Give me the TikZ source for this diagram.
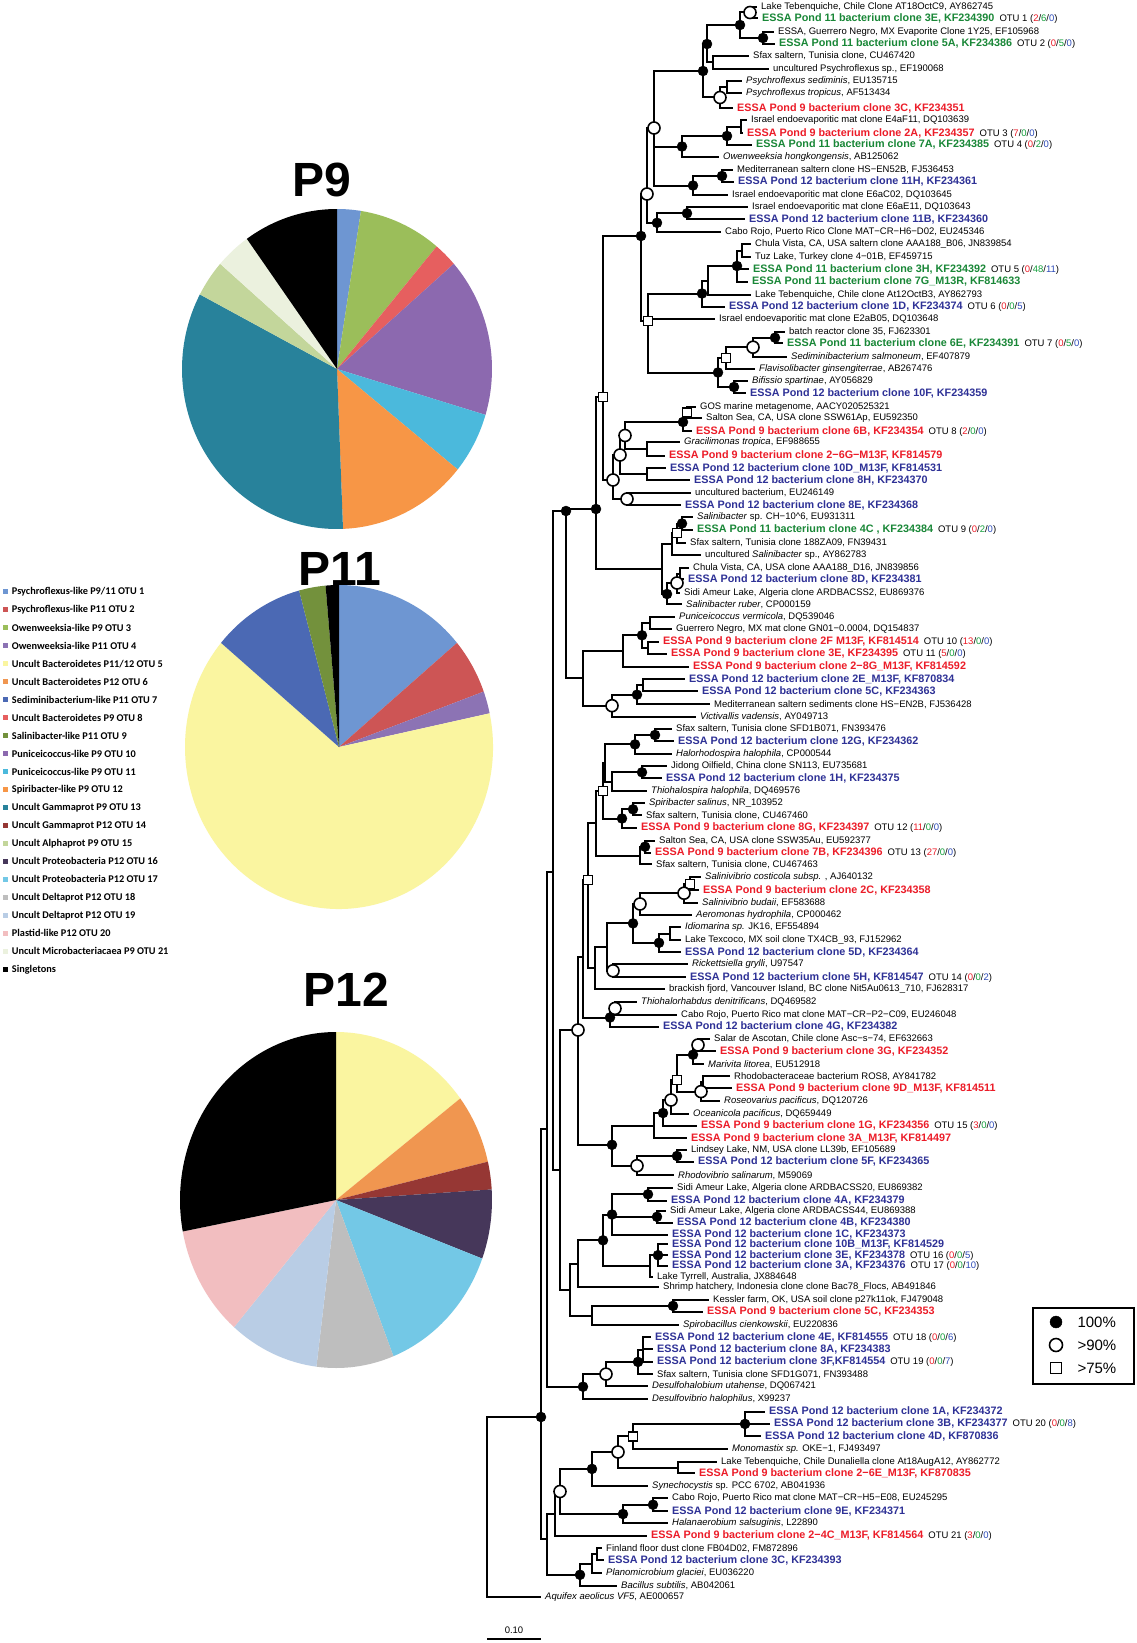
\documentclass[tikz,border=0pt]{standalone}
\usepackage{fontspec}
\setmainfont{Liberation Sans}
\newfontfamily\legfont{Carlito}
\usetikzlibrary{calc}
\definecolor{cg}{RGB}{25,135,55}
\definecolor{cr}{RGB}{236,28,40}
\definecolor{cu}{RGB}{46,49,150}
\definecolor{nr}{RGB}{236,28,40}
\definecolor{ng}{RGB}{20,160,60}
\definecolor{nb}{RGB}{45,75,185}
\definecolor{o1}{RGB}{110,150,210}
\definecolor{o2}{RGB}{205,85,85}
\definecolor{o3}{RGB}{155,190,90}
\definecolor{o4}{RGB}{140,115,180}
\definecolor{o5}{RGB}{250,245,160}
\definecolor{o6}{RGB}{240,150,80}
\definecolor{o7}{RGB}{75,105,180}
\definecolor{o8}{RGB}{230,95,95}
\definecolor{o9}{RGB}{115,145,60}
\definecolor{o10}{RGB}{140,105,175}
\definecolor{o11}{RGB}{75,185,220}
\definecolor{o12}{RGB}{247,150,70}
\definecolor{o13}{RGB}{40,130,155}
\definecolor{o14}{RGB}{150,55,52}
\definecolor{o15}{RGB}{195,214,155}
\definecolor{o16}{RGB}{70,55,90}
\definecolor{o17}{RGB}{115,200,230}
\definecolor{o18}{RGB}{190,190,190}
\definecolor{o19}{RGB}{185,205,229}
\definecolor{o20}{RGB}{242,190,192}
\definecolor{o21}{RGB}{235,241,222}
\tikzset{
 br/.style={line width=2pt},
 lb/.style={anchor=west,inner sep=0pt,font=\fontsize{9.5}{10}\selectfont},
 lg/.style={anchor=west,inner sep=0pt,font=\fontsize{10.8}{11}\selectfont\bfseries,text=cg},
 lr/.style={anchor=west,inner sep=0pt,font=\fontsize{10.8}{11}\selectfont\bfseries,text=cr},
 lu/.style={anchor=west,inner sep=0pt,font=\fontsize{10.8}{11}\selectfont\bfseries,text=cu},
 lgd/.style={anchor=west,inner sep=0pt,font=\legfont\fontsize{10.3}{11}\selectfont\bfseries},
 mkb/.style={circle,fill=black,draw=black,minimum size=10pt,inner sep=0pt},
 mkw/.style={circle,fill=white,draw=black,line width=1.6pt,minimum size=12pt,inner sep=0pt},
 mks/.style={rectangle,fill=white,draw=black,line width=1.4pt,minimum size=9pt,inner sep=0pt},
}
\newcommand\LF[5]{\coordinate (L#1) at (#2-4,#3);\node[#4] at (#2,#3) {#5};}
\newcommand\EG[2]{\draw[br] (#1) |- (#2);}
\newcommand\mkB[1]{\node[mkb] at (#1) {};}
\newcommand\mkW[1]{\node[mkw] at (#1) {};}
\newcommand\mkS[1]{\node[mks] at (#1) {};}
\newcommand\otu[4]{\hspace{5pt}{\color{black}\fontsize{9.5}{10}\selectfont\mdseries OTU #1 (\textcolor{nr}{#2}/\textcolor{ng}{#3}/\textcolor{nb}{#4})}}
\newcommand\PS[3]{\fill[#3] (0,0) -- ({\prx*cos(#1)},{\pry*sin(#1)}) arc[start angle=#1,end angle=#2,x radius=\prx,y radius=\pry] -- cycle;}
\newcommand\LG[3]{\fill[#2] (2.5,{591.7+17.98*(#1-1)-2.5}) rectangle ++(5,5); \node[lgd] at (11.7,{591.7+17.98*(#1-1)}) {#3};}

\begin{document}
\begin{tikzpicture}[x=1pt,y=-1pt]
\useasboundingbox (0,0) rectangle (1137,1643);
\fill[white] (0,0) rectangle (1137,1643);

% ---------------- pies ----------------
\def\prx{155}\def\pry{160}
\begin{scope}[shift={(337,369)},x=1pt,y=1pt]
\PS{90}{81.11}{o1}\PS{81.11}{50}{o3}\PS{50}{41.11}{o8}\PS{41.11}{-16.67}{o10}
\PS{-16.67}{-38.89}{o11}\PS{-38.89}{-87.78}{o12}\PS{-87.78}{-207.78}{o13}
\PS{-207.78}{-221.11}{o15}\PS{-221.11}{-234.44}{o21}\PS{-234.44}{-270}{black}
\end{scope}
\def\prx{154}\def\pry{162}
\begin{scope}[shift={(339,747)},x=1pt,y=1pt]
\PS{90}{40}{o1}\PS{40}{20}{o2}\PS{20}{12}{o4}\PS{12}{-220}{o5}
\PS{-220}{-255}{o7}\PS{-255}{-265}{o9}\PS{-265}{-270}{black}
\end{scope}
\def\prx{156}\def\pry{168}
\begin{scope}[shift={(336,1200)},x=1pt,y=1pt]
\PS{90}{37.2}{o5}\PS{37.2}{13.2}{o6}\PS{13.2}{3.6}{o14}\PS{3.6}{-20.4}{o16}
\PS{-20.4}{-68.4}{o17}\PS{-68.4}{-97.2}{o18}\PS{-97.2}{-130.8}{o19}
\PS{-130.8}{-169.2}{o20}\PS{-169.2}{-270}{black}
\end{scope}
\node[font=\fontsize{48}{50}\selectfont\bfseries] (t9) at (322,180) {P9};
\node[font=\fontsize{48}{50}\selectfont\bfseries] (t11) at (340,569) {P11};
\node[font=\fontsize{48}{50}\selectfont\bfseries] (t12) at (346,990) {P12};

% ---------------- pie legend ----------------
\LG{1}{o1}{Psychroflexus-like P9/11 OTU 1}
\LG{2}{o2}{Psychroflexus-like P11 OTU 2}
\LG{3}{o3}{Owenweeksia-like P9 OTU 3}
\LG{4}{o4}{Owenweeksia-like P11 OTU 4}
\LG{5}{o5}{Uncult Bacteroidetes P11/12 OTU 5}
\LG{6}{o6}{Uncult Bacteroidetes P12 OTU 6}
\LG{7}{o7}{Sediminibacterium-like P11 OTU 7}
\LG{8}{o8}{Uncult Bacteroidetes P9 OTU 8}
\LG{9}{o9}{Salinibacter-like P11 OTU 9}
\LG{10}{o10}{Puniceicoccus-like P9 OTU 10}
\LG{11}{o11}{Puniceicoccus-like P9 OTU 11}
\LG{12}{o12}{Spiribacter-like P9 OTU 12}
\LG{13}{o13}{Uncult Gammaprot P9 OTU 13}
\LG{14}{o14}{Uncult Gammaprot P12 OTU 14}
\LG{15}{o15}{Uncult Alphaprot P9 OTU 15}
\LG{16}{o16}{Uncult Proteobacteria P12 OTU 16}
\LG{17}{o17}{Uncult Proteobacteria P12 OTU 17}
\LG{18}{o18}{Uncult Deltaprot P12 OTU 18}
\LG{19}{o19}{Uncult Deltaprot P12 OTU 19}
\LG{20}{o20}{Plastid-like P12 OTU 20}
\LG{21}{o21}{Uncult Microbacteriacaea P9 OTU 21}
\LG{22}{black}{Singletons}

% ---------------- leaves ----------------
\LF{1}{761}{6.7}{lb}{Lake Tebenquiche, Chile Clone AT18OctC9, AY862745}
\LF{2}{762}{18.3}{lg}{ESSA Pond 11 bacterium clone 3E, KF234390\otu{1}{2}{6}{0}}
\LF{3}{778}{32.3}{lb}{ESSA, Guerrero Negro, MX Evaporite Clone 1Y25, EF105968}
\LF{4}{779}{43.7}{lg}{ESSA Pond 11 bacterium clone 5A, KF234386\otu{2}{0}{5}{0}}
\LF{5}{753}{56}{lb}{Sfax saltern, Tunisia clone, CU467420}
\LF{6}{773}{69}{lb}{uncultured Psychroflexus sp., EF190068}
\LF{7}{746}{81}{lb}{\textit{Psychroflexus sediminis}, EU135715}
\LF{8}{746}{93.3}{lb}{\textit{Psychroflexus tropicus}, AF513434}
\LF{9}{737}{108.3}{lr}{ESSA Pond 9 bacterium clone 3C, KF234351}
\LF{10}{751}{120}{lb}{Israel endoevaporitic mat clone E4aF11, DQ103639}
\LF{11}{747}{133.3}{lr}{ESSA Pond 9 bacterium clone 2A, KF234357\otu{3}{7}{0}{0}}
\LF{12}{756}{145}{lg}{ESSA Pond 11 bacterium clone 7A, KF234385\otu{4}{0}{2}{0}}
\LF{13}{723}{156.7}{lb}{\textit{Owenweeksia hongkongensis}, AB125062}
\LF{14}{737}{170}{lb}{Mediterranean saltern clone HS−EN52B, FJ536453}
\LF{15}{738}{181.7}{lu}{ESSA Pond 12 bacterium clone 11H, KF234361}
\LF{16}{732}{195}{lb}{Israel endoevaporitic mat clone E6aC02, DQ103645}
\LF{17}{752}{207.3}{lb}{Israel endoevaporitic mat clone E6aE11, DQ103643}
\LF{18}{749}{219.3}{lu}{ESSA Pond 12 bacterium clone 11B, KF234360}
\LF{19}{725}{232.3}{lb}{Cabo Rojo, Puerto Rico Clone MAT−CR−H6−D02, EU245346}
\LF{20}{755}{244.3}{lb}{Chula Vista, CA, USA saltern clone AAA188\_B06, JN839854}
\LF{21}{755}{257}{lb}{Tuz Lake, Turkey clone 4−01B, EF459715}
\LF{22}{753}{269.3}{lg}{ESSA Pond 11 bacterium clone 3H, KF234392\otu{5}{0}{48}{11}}
\LF{23}{752}{281.7}{lg}{ESSA Pond 11 bacterium clone 7G\_M13R, KF814633}
\LF{24}{755}{294.7}{lb}{Lake Tebenquiche, Chile clone At12OctB3, AY862793}
\LF{25}{729}{306.7}{lu}{ESSA Pond 12 bacterium clone 1D, KF234374\otu{6}{0}{0}{5}}
\LF{26}{719}{319.3}{lb}{Israel endoevaporitic mat clone E2aB05, DQ103648}
\LF{27}{789}{332}{lb}{batch reactor clone 35, FJ623301}
\LF{28}{787}{343.3}{lg}{ESSA Pond 11 bacterium clone 6E, KF234391\otu{7}{0}{5}{0}}
\LF{29}{791}{356.7}{lb}{\textit{Sediminibacterium salmoneum}, EF407879}
\LF{30}{759}{369}{lb}{\textit{Flavisolibacter ginsengiterrae}, AB267476}
\LF{31}{752}{380.7}{lb}{\textit{Bifissio spartinae}, AY056829}
\LF{32}{750}{393.3}{lu}{ESSA Pond 12 bacterium clone 10F, KF234359}
\LF{33}{700}{406.7}{lb}{GOS marine metagenome, AACY020525321}
\LF{34}{706}{418.3}{lb}{Salton Sea, CA, USA clone SSW61Ap, EU592350}
\LF{35}{696}{431.3}{lr}{ESSA Pond 9 bacterium clone 6B, KF234354\otu{8}{2}{0}{0}}
\LF{36}{684}{442.3}{lb}{\textit{Gracilimonas tropica}, EF988655}
\LF{37}{669}{455.7}{lr}{ESSA Pond 9 bacterium clone 2−6G−M13F, KF814579}
\LF{38}{670}{468.3}{lu}{ESSA Pond 12 bacterium clone 10D\_M13F, KF814531}
\LF{39}{694}{480.3}{lu}{ESSA Pond 12 bacterium clone 8H, KF234370}
\LF{40}{695}{493}{lb}{uncultured bacterium, EU246149}
\LF{41}{685}{505}{lu}{ESSA Pond 12 bacterium clone 8E, KF234368}
\LF{42}{697}{517}{lb}{\textit{Salinibacter} sp. CH−10\textasciicircum 6, EU931311}
\LF{43}{697}{530}{lg}{ESSA Pond 11 bacterium clone 4C , KF234384\otu{9}{0}{2}{0}}
\LF{44}{690}{542.7}{lb}{Sfax saltern, Tunisia clone 188ZA09, FN39431}
\LF{45}{705}{555}{lb}{uncultured \textit{Salinibacter} sp., AY862783}
\LF{46}{693}{567.7}{lb}{Chula Vista, CA, USA clone AAA188\_D16, JN839856}
\LF{47}{688}{579.3}{lu}{ESSA Pond 12 bacterium clone 8D, KF234381}
\LF{48}{684}{592.7}{lb}{Sidi Ameur Lake, Algeria clone ARDBACSS2, EU869376}
\LF{49}{686}{604.3}{lb}{\textit{Salinibacter ruber}, CP000159}
\LF{50}{679}{616.7}{lb}{\textit{Puniceicoccus vermicola}, DQ539046}
\LF{51}{676}{629.3}{lb}{Guerrero Negro, MX mat clone GN01−0.0004, DQ154837}
\LF{52}{663}{641.7}{lr}{ESSA Pond 9 bacterium clone 2F M13F, KF814514\otu{10}{13}{0}{0}}
\LF{53}{671}{653.7}{lr}{ESSA Pond 9 bacterium clone 3E, KF234395\otu{11}{5}{0}{0}}
\LF{54}{693}{666.7}{lr}{ESSA Pond 9 bacterium clone 2−8G\_M13F, KF814592}
\LF{55}{689}{679}{lu}{ESSA Pond 12 bacterium clone 2E\_M13F, KF870834}
\LF{56}{702}{691}{lu}{ESSA Pond 12 bacterium clone 5C, KF234363}
\LF{57}{714}{704.3}{lb}{Mediterranean saltern sediments clone HS−EN2B, FJ536428}
\LF{58}{700}{716.7}{lb}{\textit{Victivallis vadensis}, AY049713}
\LF{59}{676}{729}{lb}{Sfax saltern, Tunisia clone SFD1B071, FN393476}
\LF{60}{678}{741}{lu}{ESSA Pond 12 bacterium clone 12G, KF234362}
\LF{61}{676}{753.7}{lb}{\textit{Halorhodospira halophila}, CP000544}
\LF{62}{671}{766.3}{lb}{Jidong Oilfield, China clone SN113, EU735681}
\LF{63}{666}{778.3}{lu}{ESSA Pond 12 bacterium clone 1H, KF234375}
\LF{64}{651}{791}{lb}{\textit{Thiohalospira halophila}, DQ469576}
\LF{65}{649}{803.3}{lb}{\textit{Spiribacter salinus}, NR\_103952}
\LF{66}{646}{815.3}{lb}{Sfax saltern, Tunisia clone, CU467460}
\LF{67}{641}{827.7}{lr}{ESSA Pond 9 bacterium clone 8G, KF234397\otu{12}{11}{0}{0}}
\LF{68}{659}{840.7}{lb}{Salton Sea, CA, USA clone SSW35Au, EU592377}
\LF{69}{655}{852.7}{lr}{ESSA Pond 9 bacterium clone 7B, KF234396\otu{13}{27}{0}{0}}
\LF{70}{656}{864.3}{lb}{Sfax saltern, Tunisia clone, CU467463}
\LF{71}{705}{877.3}{lb}{\textit{Salinivibrio costicola subsp.} , AJ640132}
\LF{72}{703}{890}{lr}{ESSA Pond 9 bacterium clone 2C, KF234358}
\LF{73}{702}{902.7}{lb}{\textit{Salinivibrio budaii}, EF583688}
\LF{74}{696}{914.7}{lb}{\textit{Aeromonas hydrophila}, CP000462}
\LF{75}{685}{927.3}{lb}{\textit{Idiomarina sp.} JK16, EF554894}
\LF{76}{685}{940}{lb}{Lake Texcoco, MX soil clone TX4CB\_93, FJ152962}
\LF{77}{685}{952}{lu}{ESSA Pond 12 bacterium clone 5D, KF234364}
\LF{78}{692}{964.3}{lb}{\textit{Rickettsiella grylli}, U97547}
\LF{79}{690}{977.3}{lu}{ESSA Pond 12 bacterium clone 5H, KF814547\otu{14}{0}{0}{2}}
\LF{80}{669}{988.7}{lb}{brackish fjord, Vancouver Island, BC clone Nit5Au0613\_710, FJ628317}
\LF{81}{641}{1002}{lb}{\textit{Thiohalorhabdus denitrificans}, DQ469582}
\LF{82}{681}{1014.7}{lb}{Cabo Rojo, Puerto Rico mat clone MAT−CR−P2−C09, EU246048}
\LF{83}{663}{1026.7}{lu}{ESSA Pond 12 bacterium clone 4G, KF234382}
\LF{84}{714}{1039}{lb}{Salar de Ascotan, Chile clone Asc−s−74, EF632663}
\LF{85}{720}{1051}{lr}{ESSA Pond 9 bacterium clone 3G, KF234352}
\LF{86}{708}{1064.3}{lb}{\textit{Marivita litorea}, EU512918}
\LF{87}{734}{1076.3}{lb}{Rhodobacteraceae bacterium ROS8, AY841782}
\LF{88}{736}{1088.3}{lr}{ESSA Pond 9 bacterium clone 9D\_M13F, KF814511}
\LF{89}{724}{1101}{lb}{\textit{Roseovarius pacificus}, DQ120726}
\LF{90}{693}{1113.7}{lb}{\textit{Oceanicola pacificus}, DQ659449}
\LF{91}{701}{1125.7}{lr}{ESSA Pond 9 bacterium clone 1G, KF234356\otu{15}{3}{0}{0}}
\LF{92}{691}{1138.3}{lr}{ESSA Pond 9 bacterium clone 3A\_M13F, KF814497}
\LF{93}{691}{1150.3}{lb}{Lindsey Lake, NM, USA clone LL39b, EF105689}
\LF{94}{698}{1161.7}{lu}{ESSA Pond 12 bacterium clone 5F, KF234365}
\LF{95}{678}{1175.3}{lb}{\textit{Rhodovibrio salinarum}, M59069}
\LF{96}{677}{1188}{lb}{Sidi Ameur Lake, Algeria clone ARDBACSS20, EU869382}
\LF{97}{671}{1200.7}{lu}{ESSA Pond 12 bacterium clone 4A, KF234379}
\LF{98}{670}{1211}{lb}{Sidi Ameur Lake, Algeria clone ARDBACSS44, EU869388}
\LF{99}{677}{1222.7}{lu}{ESSA Pond 12 bacterium clone 4B, KF234380}
\LF{100}{672}{1234.7}{lu}{ESSA Pond 12 bacterium clone 1C, KF234373}
\LF{101}{672}{1244.3}{lu}{ESSA Pond 12 bacterium clone 10B\_M13F, KF814529}
\LF{102}{672}{1255.3}{lu}{ESSA Pond 12 bacterium clone 3E, KF234378\otu{16}{0}{0}{5}}
\LF{103}{672}{1266}{lu}{ESSA Pond 12 bacterium clone 3A, KF234376\otu{17}{0}{0}{10}}
\LF{104}{657}{1276.7}{lb}{Lake Tyrrell, Australia, JX884648}
\LF{105}{663}{1287.3}{lb}{Shrimp hatchery, Indonesia clone clone Bac78\_Flocs, AB491846}
\LF{106}{713}{1300}{lb}{Kessler farm, OK, USA soil clone p27k11ok, FJ479048}
\LF{107}{707}{1311.7}{lr}{ESSA Pond 9 bacterium clone 5C, KF234353}
\LF{108}{683}{1325}{lb}{\textit{Spirobacillus cienkowskii}, EU220836}
\LF{109}{655}{1337.3}{lu}{ESSA Pond 12 bacterium clone 4E, KF814555\otu{18}{0}{0}{6}}
\LF{110}{657}{1349}{lu}{ESSA Pond 12 bacterium clone 8A, KF234383}
\LF{111}{657}{1361.7}{lu}{ESSA Pond 12 bacterium clone 3F,KF814554\otu{19}{0}{0}{7}}
\LF{112}{657}{1374.3}{lb}{Sfax saltern, Tunisia clone SFD1G071, FN393488}
\LF{113}{652}{1386.3}{lb}{\textit{Desulfohalobium utahense}, DQ067421}
\LF{114}{652}{1399.3}{lb}{\textit{Desulfovibrio halophilus}, X99237}
\LF{115}{769}{1411.7}{lu}{ESSA Pond 12 bacterium clone 1A, KF234372}
\LF{116}{774}{1423.7}{lu}{ESSA Pond 12 bacterium clone 3B, KF234377\otu{20}{0}{0}{8}}
\LF{117}{765}{1436}{lu}{ESSA Pond 12 bacterium clone 4D, KF870836}
\LF{118}{732}{1449}{lb}{\textit{Monomastix sp.} OKE−1, FJ493497}
\LF{119}{721}{1461.7}{lb}{Lake Tebenquiche, Chile Dunaliella clone At18AugA12, AY862772}
\LF{120}{699}{1473.3}{lr}{ESSA Pond 9 bacterium clone 2−6E\_M13F, KF870835}
\LF{121}{652}{1485.7}{lb}{\textit{Synechocystis} sp. PCC 6702, AB041936}
\LF{122}{672}{1498.3}{lb}{Cabo Rojo, Puerto Rico mat clone MAT−CR−H5−E08, EU245295}
\LF{123}{672}{1511}{lu}{ESSA Pond 12 bacterium clone 9E, KF234371}
\LF{124}{672}{1523.3}{lb}{\textit{Halanaerobium salsuginis}, L22890}
\LF{125}{651}{1535.7}{lr}{ESSA Pond 9 bacterium clone 2−4C\_M13F, KF814564\otu{21}{3}{0}{0}}
\LF{126}{606}{1548.3}{lb}{Finland floor dust clone FB04D02, FM872896}
\LF{127}{608}{1560}{lu}{ESSA Pond 12 bacterium clone 3C, KF234393}
\LF{128}{606}{1573.3}{lb}{\textit{Planomicrobium glaciei}, EU036220}
\LF{129}{621}{1585.7}{lb}{\textit{Bacillus subtilis}, AB042061}
\LF{130}{545}{1596.7}{lb}{\textit{Aquifex aeolicus VF5}, AE000657}

% ---------------- internal nodes ----------------
\coordinate (a1) at (750,12.5);  \coordinate (a2) at (763,38);
\coordinate (a3) at (740,25);    \coordinate (a4) at (713,62.5);
\coordinate (a5) at (707,44);    \coordinate (a6) at (727,87);
\coordinate (a7) at (720,97.5);  \coordinate (a8) at (703,71);
\coordinate (a9) at (741,126.7); \coordinate (a10) at (727,136);
\coordinate (a11) at (682,146.5);\coordinate (a12) at (722,176);
\coordinate (a13) at (693,185.5);\coordinate (a14) at (654,128);
\coordinate (a15) at (687,213.3);\coordinate (a16) at (657,222.8);
\coordinate (a17) at (647,194);  \coordinate (a18) at (742,250.7);
\coordinate (a19) at (737,266);  \coordinate (a20) at (708,280.5);
\coordinate (a21) at (702,293.5);\coordinate (a22) at (775,337.7);
\coordinate (a23) at (753,347.2);\coordinate (a24) at (726,358);
\coordinate (a25) at (734,387);  \coordinate (a26) at (718,372.5);
\coordinate (a27) at (648,321);  \coordinate (a28) at (641,236);
\coordinate (a29) at (687,412.5);\coordinate (a30) at (683,422);
\coordinate (a31) at (647,449);  \coordinate (a32) at (625,435.5);
\coordinate (a33) at (647,474.3);\coordinate (a34) at (620,455);
\coordinate (a35) at (627,499);  \coordinate (a36) at (613,480);
\coordinate (a37) at (603,397);  \coordinate (a38) at (682,523.5);
\coordinate (a39) at (677,533);  \coordinate (a40) at (672,544);
\coordinate (a41) at (680,573.5);\coordinate (a42) at (677,583);
\coordinate (a43) at (667,594);  \coordinate (a44) at (662,569);
\coordinate (a45) at (596,509);
\coordinate (v1) at (650,623);   \coordinate (v2) at (648,647.7);
\coordinate (v3) at (642,635.3); \coordinate (v4) at (623,651);
\coordinate (v5) at (643,685);   \coordinate (v6) at (637,694.7);
\coordinate (v7) at (612,705.7); \coordinate (v8) at (583,678.3);
\coordinate (g1) at (655,735);   \coordinate (g2) at (635,744.4);
\coordinate (g3) at (642,772.3); \coordinate (g4) at (612,781.7);
\coordinate (g5) at (605,763);   \coordinate (g6) at (633,809.3);
\coordinate (g7) at (622,818.5); \coordinate (g8) at (603,790.7);
\coordinate (g9) at (645,846.7); \coordinate (g10) at (640,855.5);
\coordinate (g11) at (596,823);  \coordinate (g12) at (690,883.7);
\coordinate (g13) at (684,893.2);\coordinate (g14) at (640,904);
\coordinate (g15) at (670,933.7);\coordinate (g16) at (659,942.8);
\coordinate (g17) at (633,923.4);\coordinate (g18) at (613,970.8);
\coordinate (g19) at (607,947.1);\coordinate (g20) at (595,967.9);
\coordinate (g21) at (588,880);  \coordinate (g22) at (615,1008.4);
\coordinate (g23) at (610,1017.5);\coordinate (g24) at (583,956.5);
\coordinate (h1) at (698,1045);  \coordinate (h2) at (693,1054.7);
\coordinate (h3) at (703,1082.3);\coordinate (h4) at (701,1091.6);
\coordinate (h5) at (677,1080);  \coordinate (h6) at (671,1100);
\coordinate (h7) at (663,1113);  \coordinate (h8) at (654,1125.7);
\coordinate (h9) at (677,1156);  \coordinate (h10) at (637,1165.7);
\coordinate (h11) at (612,1144.8);
\coordinate (s1) at (648,1194.3);\coordinate (s2) at (657,1216.8);
\coordinate (s3) at (612,1214.5);\coordinate (s4) at (658,1255.2);
\coordinate (s5) at (650,1266);  \coordinate (s6) at (603,1240.3);
\coordinate (s7) at (578,1263.8);
\coordinate (k1) at (673,1305.9);\coordinate (k2) at (592,1315.5);
\coordinate (d1) at (643,1349.5);\coordinate (d2) at (638,1361.9);
\coordinate (d3) at (606,1374.1);\coordinate (d4) at (583,1386.7);
\coordinate (p1) at (745,1423.9);\coordinate (p2) at (633,1436.4);
\coordinate (p3) at (678,1467.5);\coordinate (p4) at (618,1452);
\coordinate (p5) at (592,1468.9);\coordinate (p6) at (653,1504.7);
\coordinate (p7) at (623,1514);  \coordinate (p8) at (560,1491.5);
\coordinate (p9) at (555,1513.6);\coordinate (p10) at (597,1554.2);
\coordinate (p11) at (592,1563.8);\coordinate (p12) at (580,1574.8);
\coordinate (p13) at (547,1539);
\coordinate (b1) at (566,511);   \coordinate (b2) at (578,1030);
\coordinate (b3) at (570,1289.7);\coordinate (b4) at (560,1170.2);
\coordinate (b5) at (553,871.5); \coordinate (b6) at (547,1129.1);
\coordinate (I) at (541,1417);   \coordinate (R) at (487,1507);

% ---------------- branches ----------------
\EG{a1}{L1}\EG{a1}{L2}\EG{a2}{L3}\EG{a2}{L4}\EG{a3}{a1}\EG{a3}{a2}
\EG{a4}{L5}\EG{a4}{L6}\EG{a5}{a3}\EG{a5}{a4}\EG{a6}{L7}\EG{a6}{L8}
\EG{a7}{a6}\EG{a7}{L9}\EG{a8}{a5}\EG{a8}{a7}\EG{a9}{L10}\EG{a9}{L11}
\EG{a10}{a9}\EG{a10}{L12}\EG{a11}{a10}\EG{a11}{L13}\EG{a12}{L14}\EG{a12}{L15}
\EG{a13}{a12}\EG{a13}{L16}\EG{a14}{a8}\EG{a14}{a11}\EG{a14}{a13}
\EG{a15}{L17}\EG{a15}{L18}\EG{a16}{a15}\EG{a16}{L19}\EG{a17}{a14}\EG{a17}{a16}
\EG{a18}{L20}\EG{a18}{L21}\EG{a19}{a18}\EG{a19}{L22}\EG{a19}{L23}
\EG{a20}{a19}\EG{a20}{L24}\EG{a21}{a20}\EG{a21}{L25}
\EG{a22}{L27}\EG{a22}{L28}\EG{a23}{a22}\EG{a23}{L29}\EG{a24}{a23}\EG{a24}{L30}
\EG{a25}{L31}\EG{a25}{L32}\EG{a26}{a24}\EG{a26}{a25}
\EG{a27}{a21}\EG{a27}{L26}\EG{a27}{a26}\EG{a28}{a17}\EG{a28}{a27}
\EG{a29}{L33}\EG{a29}{L34}\EG{a30}{a29}\EG{a30}{L35}\EG{a31}{L36}\EG{a31}{L37}
\EG{a32}{a30}\EG{a32}{a31}\EG{a33}{L38}\EG{a33}{L39}\EG{a34}{a32}\EG{a34}{a33}
\EG{a35}{L40}\EG{a35}{L41}\EG{a36}{a34}\EG{a36}{a35}\EG{a37}{a28}\EG{a37}{a36}
\EG{a38}{L42}\EG{a38}{L43}\EG{a39}{a38}\EG{a39}{L44}\EG{a40}{a39}\EG{a40}{L45}
\EG{a41}{L46}\EG{a41}{L47}\EG{a42}{a41}\EG{a42}{L48}\EG{a43}{a42}\EG{a43}{L49}
\EG{a44}{a40}\EG{a44}{a43}\EG{a45}{a37}\EG{a45}{a44}
\EG{v1}{L50}\EG{v1}{L51}\EG{v2}{L52}\EG{v2}{L53}\EG{v3}{v1}\EG{v3}{v2}
\EG{v4}{v3}\EG{v4}{L54}\EG{v5}{L55}\EG{v5}{L56}\EG{v6}{v5}\EG{v6}{L57}
\EG{v7}{v6}\EG{v7}{L58}\EG{v8}{v4}\EG{v8}{v7}
\EG{g1}{L59}\EG{g1}{L60}\EG{g2}{g1}\EG{g2}{L61}\EG{g3}{L62}\EG{g3}{L63}
\EG{g4}{g3}\EG{g4}{L64}\EG{g5}{g2}\EG{g5}{g4}\EG{g6}{L65}\EG{g6}{L66}
\EG{g7}{g6}\EG{g7}{L67}\EG{g8}{g5}\EG{g8}{g7}\EG{g9}{L68}\EG{g9}{L69}
\EG{g10}{g9}\EG{g10}{L70}\EG{g11}{g8}\EG{g11}{g10}\EG{g12}{L71}\EG{g12}{L72}
\EG{g13}{g12}\EG{g13}{L73}\EG{g14}{g13}\EG{g14}{L74}\EG{g15}{L75}\EG{g15}{L76}
\EG{g16}{g15}\EG{g16}{L77}\EG{g17}{g14}\EG{g17}{g16}\EG{g18}{L78}\EG{g18}{L79}
\EG{g19}{g17}\EG{g19}{g18}\EG{g20}{g19}\EG{g20}{L80}\EG{g21}{g11}\EG{g21}{g20}
\EG{g22}{L81}\EG{g22}{L82}\EG{g23}{g22}\EG{g23}{L83}\EG{g24}{g21}\EG{g24}{g23}
\EG{h1}{L84}\EG{h1}{L85}\EG{h2}{h1}\EG{h2}{L86}\EG{h3}{L87}\EG{h3}{L88}
\EG{h4}{h3}\EG{h4}{L89}\EG{h5}{h2}\EG{h5}{h4}\EG{h6}{h5}\EG{h6}{L90}
\EG{h7}{h6}\EG{h7}{L91}\EG{h8}{h7}\EG{h8}{L92}\EG{h9}{L93}\EG{h9}{L94}
\EG{h10}{h9}\EG{h10}{L95}\EG{h11}{h8}\EG{h11}{h10}
\EG{s1}{L96}\EG{s1}{L97}\EG{s2}{L98}\EG{s2}{L99}\EG{s3}{s1}\EG{s3}{s2}\EG{s3}{L100}
\EG{s4}{L101}\EG{s4}{L102}\EG{s4}{L103}\EG{s5}{s4}\EG{s5}{L104}
\EG{s6}{s3}\EG{s6}{s5}\EG{s7}{s6}\EG{s7}{L105}
\EG{k1}{L106}\EG{k1}{L107}\EG{k2}{k1}\EG{k2}{L108}
\EG{d1}{L109}\EG{d1}{L110}\EG{d1}{L111}\EG{d2}{d1}\EG{d2}{L112}
\EG{d3}{d2}\EG{d3}{L113}\EG{d4}{d3}\EG{d4}{L114}
\EG{p1}{L115}\EG{p1}{L116}\EG{p1}{L117}\EG{p2}{p1}\EG{p2}{L118}
\EG{p3}{L119}\EG{p3}{L120}\EG{p4}{p2}\EG{p4}{p3}\EG{p5}{p4}\EG{p5}{L121}
\EG{p6}{L122}\EG{p6}{L123}\EG{p7}{p6}\EG{p7}{L124}\EG{p8}{p5}\EG{p8}{p7}
\EG{p9}{p8}\EG{p9}{L125}\EG{p10}{L126}\EG{p10}{L127}\EG{p11}{p10}\EG{p11}{L128}
\EG{p12}{p11}\EG{p12}{L129}\EG{p13}{p9}\EG{p13}{p12}
\EG{b1}{a45}\EG{b1}{v8}\EG{b2}{g24}\EG{b2}{h11}\EG{b3}{s7}\EG{b3}{k2}
\EG{b4}{b2}\EG{b4}{b3}\EG{b5}{b1}\EG{b5}{b4}\EG{b6}{b5}\EG{b6}{d4}
\EG{I}{b6}\EG{I}{p13}\EG{R}{I}\EG{R}{L130}

% ---------------- support markers ----------------
\mkW{a1}\mkB{a2}\mkB{a3}\mkB{a5}\mkW{a7}\mkB{a8}\mkB{a10}\mkB{a11}\mkB{a12}\mkB{a13}
\mkW{a14}\mkB{a15}\mkB{a16}\mkW{a17}\mkB{a19}\mkB{a21}\mkB{a22}\mkW{a23}\mkS{a24}
\mkB{a25}\mkB{a26}\mkS{a27}\mkB{a28}\mkS{a29}\mkB{a30}\mkW{a32}\mkW{a34}\mkW{a35}
\mkW{a36}\mkS{a37}\mkB{a38}\mkS{a39}\mkW{a42}\mkB{a43}\mkB{a45}
\mkB{v3}\mkB{v6}\mkW{v7}
\mkB{g1}\mkB{g2}\mkB{g3}\mkB{g6}\mkB{g7}\mkS{g8}\mkB{g9}\mkS{g12}\mkW{g13}\mkW{g14}
\mkB{g16}\mkB{g17}\mkW{g18}\mkS{g21}\mkW{g22}\mkB{g23}
\mkW{h1}\mkB{h2}\mkW{h4}\mkS{h5}\mkW{h6}\mkB{h7}\mkB{h9}\mkW{h10}\mkB{h11}
\mkB{s1}\mkB{s2}\mkB{s3}\mkB{s4}\mkB{s6}\mkB{k1}
\mkB{d2}\mkW{d3}\mkB{d4}
\mkB{p1}\mkS{p2}\mkW{p4}\mkB{p5}\mkB{p6}\mkB{p7}\mkW{p8}\mkB{p12}
\mkW{b2}\mkB{b1}\mkB{I}

% ---------------- scale bar ----------------
\coordinate (sb1) at (487,1639); \coordinate (sb2) at (541,1639);
\draw[br] (sb1) -- (sb2);
\node[lb,anchor=south] (sbl) at (514,1634) {0.10};

% ---------------- bootstrap legend ----------------
\draw[line width=1.2pt] (1033,1308) rectangle (1134,1384);
\node[mkb,minimum size=12pt] (k100) at (1056,1322) {};
\node[mkw,minimum size=13pt] (k90) at (1056,1345) {};
\node[mks,minimum size=11pt] (k75) at (1056,1368) {};
\node[anchor=west,font=\fontsize{15}{16}\selectfont] at (1074,1322) {100\%};
\node[anchor=west,font=\fontsize{15}{16}\selectfont] at (1074,1345) {>90\%};
\node[anchor=west,font=\fontsize{15}{16}\selectfont] at (1074,1368) {>75\%};
\end{tikzpicture}
\end{document}
